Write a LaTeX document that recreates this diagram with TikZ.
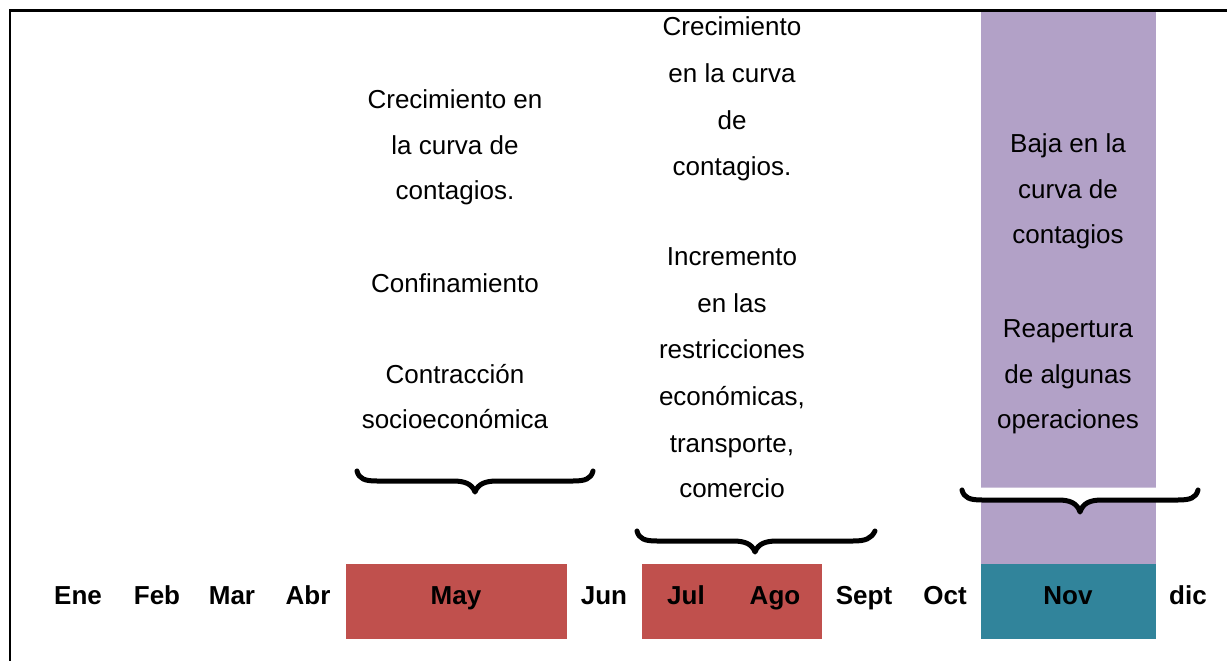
\documentclass[tikz,border=0pt]{standalone}
\usepackage{fontspec}
\setmainfont{Liberation Sans}
\definecolor{mayred}{HTML}{C0504D}
\definecolor{novteal}{HTML}{31849B}
\definecolor{lilac}{HTML}{B2A1C7}
\begin{document}
\begin{tikzpicture}[x=1pt,y=-1pt,
  txt/.style={anchor=base,inner sep=0pt,font=\fontsize{26}{30}\selectfont},
  mon/.style={anchor=base,inner sep=0pt,font=\fontsize{26}{30}\selectfont\bfseries},
  bracestyle/.style={line width=5pt,line cap=round,line join=round}]
\useasboundingbox (0,0) rectangle (1227,661);
% frame
\draw[line width=2.2pt] (10,661) -- (10,10.5) -- (1227,10.5);
% coloured bands
\fill[lilac] (981,11.6) rectangle (1156,564);
\fill[mayred] (346,564) rectangle (567,639);
\fill[mayred] (642,564) rectangle (822,639);
\fill[novteal] (981,564) rectangle (1156,639);
% brace 3 white backing
\fill[white] (962,490) .. controls (964,498) and (970,500) .. (982,500) -- (1058,500)
  .. controls (1070,500) and (1077,503) .. (1080,512) .. controls (1083,503) and (1090,500) .. (1102,500)
  -- (1178,500) .. controls (1190,500) and (1196,498) .. (1198,490) -- (1198,487.5) -- (962,487.5) -- cycle;
% braces
\draw[bracestyle] (357,471) .. controls (359,479) and (365,481) .. (377,481) -- (453,481)
  .. controls (465,481) and (472,484) .. (475,492) .. controls (478,484) and (485,481) .. (497,481)
  -- (573,481) .. controls (585,481) and (591,479) .. (593,471);
\draw[bracestyle] (637,531) .. controls (639,539) and (645,541) .. (657,541) -- (733,541)
  .. controls (745,541) and (752,544) .. (755,552) .. controls (758,544) and (765,541) .. (777,541)
  -- (853,541) .. controls (865,541) and (871,539) .. (875,531);
\draw[bracestyle] (962,490) .. controls (964,498) and (970,500) .. (982,500) -- (1058,500)
  .. controls (1070,500) and (1077,503) .. (1080,512) .. controls (1083,503) and (1090,500) .. (1102,500)
  -- (1178,500) .. controls (1190,500) and (1196,498) .. (1198,490);
% block 1
\node[txt] (a1) at (455,109) {Crecimiento en};
\node[txt] (a2) at (455,154) {la curva de};
\node[txt] (a3) at (455,199) {contagios.};
\node[txt] (a4) at (455,292) {Confinamiento};
\node[txt] (a5) at (455,383) {Contracción};
\node[txt] (a6) at (455,428) {socioeconómica};
% block 2
\node[txt] (b1) at (732,36) {Crecimiento};
\node[txt] (b2) at (732,83) {en la curva};
\node[txt] (b3) at (732,129) {de};
\node[txt] (b4) at (732,175) {contagios.};
\node[txt] (b5) at (732,265) {Incremento};
\node[txt] (b6) at (732,312) {en las};
\node[txt] (b7) at (732,358) {restricciones};
\node[txt] (b8) at (732,405) {económicas,};
\node[txt] (b9) at (732,452) {transporte,};
\node[txt] (b10) at (732,497) {comercio};
% block 3
\node[txt] (c1) at (1068,152) {Baja en la};
\node[txt] (c2) at (1068,198) {curva de};
\node[txt] (c3) at (1068,243) {contagios};
\node[txt] (c4) at (1068,337) {Reapertura};
\node[txt] (c5) at (1068,383) {de algunas};
\node[txt] (c6) at (1068,428) {operaciones};
% months
\node[mon] (ene) at (78,604) {Ene};
\node[mon] (feb) at (157,604) {Feb};
\node[mon] (mar) at (232,604) {Mar};
\node[mon] (abr) at (308,604) {Abr};
\node[mon] (may) at (456,604) {May};
\node[mon] (jun) at (604,604) {Jun};
\node[mon] (jul) at (686,604) {Jul};
\node[mon] (ago) at (775,604) {Ago};
\node[mon] (sep) at (864,604) {Sept};
\node[mon] (oct) at (945,604) {Oct};
\node[mon] (nov) at (1068,604) {Nov};
\node[mon] (dic) at (1188,604) {dic};
\end{tikzpicture}
\end{document}
